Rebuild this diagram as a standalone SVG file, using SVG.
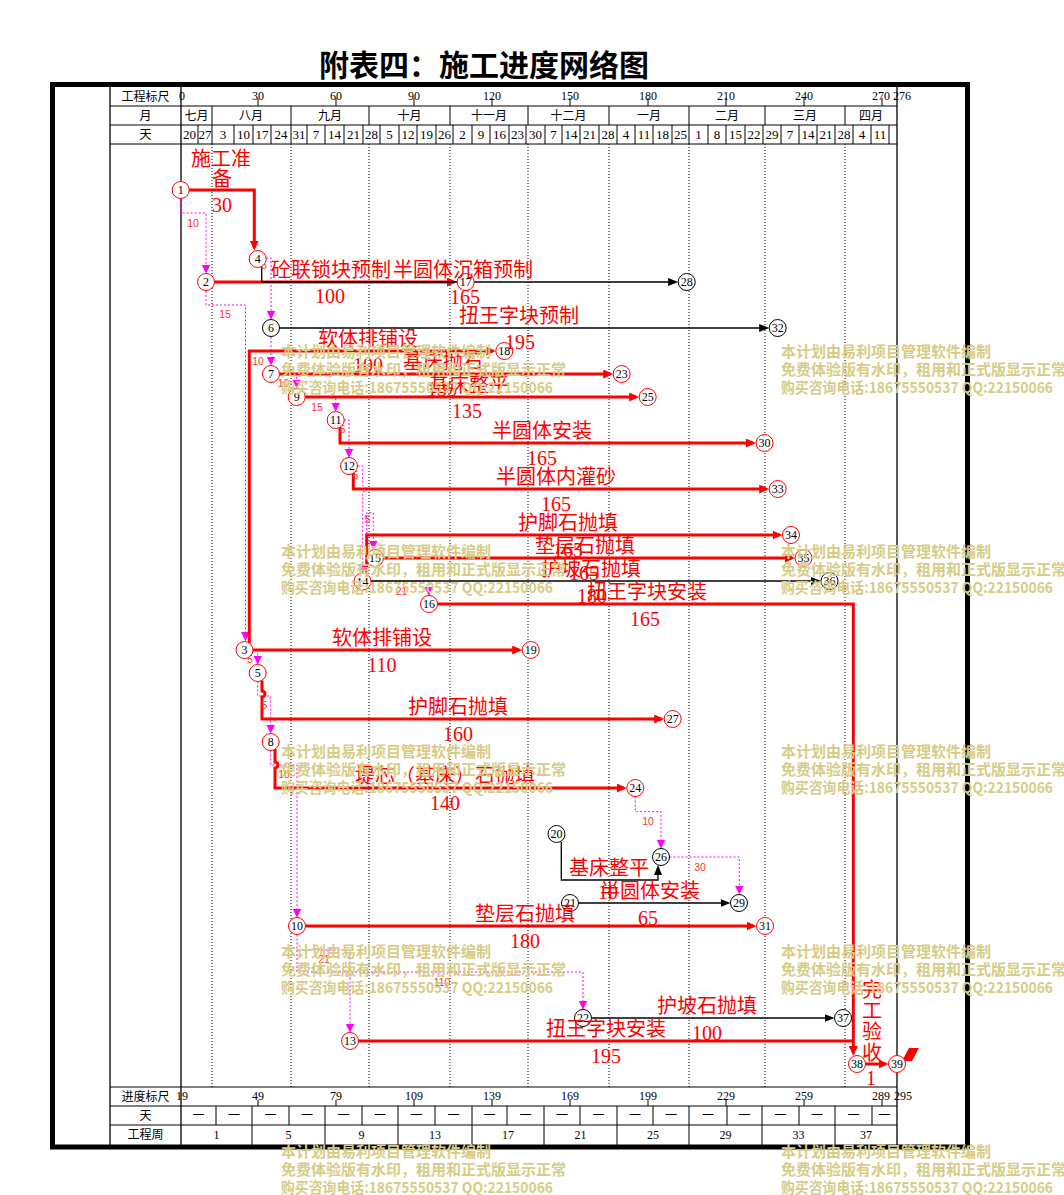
<svg xmlns="http://www.w3.org/2000/svg" width="1064" height="1195" viewBox="0 0 1064 1195">
<style>
.fr{fill:none;stroke:#000;stroke-width:5}
.ln{stroke:#000;stroke-width:1.3;fill:none}
.th{stroke:#000;stroke-width:1;fill:none}
.gd{stroke:#000;stroke-width:1;stroke-dasharray:1 2;fill:none}
.r{fill:none;stroke:#f00;stroke-width:3}
.b{fill:none;stroke:#000;stroke-width:1.3}
.d{fill:none;stroke:#f0f;stroke-width:1;stroke-dasharray:2 2}
.ra{marker-end:url(#ar)}
.ba{marker-end:url(#ab)}
.da{marker-end:url(#am)}
.nr circle{fill:#fff;stroke:#f00;stroke-width:1}
.nb circle{fill:#fff;stroke:#000;stroke-width:1}
.nr text,.nb text{font-family:"Liberation Serif",serif;font-size:12px;text-anchor:middle;fill:#000}
.h{font-family:"Liberation Serif","Noto Sans CJK SC",serif;font-size:12px;text-anchor:middle;fill:#000}
.hd{font-family:"Liberation Serif",serif;font-size:13px;text-anchor:middle;fill:#000}
.lb{font-family:"Liberation Serif","Noto Sans CJK SC",serif;font-size:20px;text-anchor:middle;fill:#f00}
.sm{font-family:"Liberation Sans",sans-serif;font-size:10.5px;text-anchor:middle;fill:#f33}
.wm{font-family:"Noto Sans CJK SC",sans-serif;font-size:15px;font-weight:bold;fill:#D7CC85}
.tt{font-family:"Noto Sans CJK SC",sans-serif;font-size:30px;font-weight:bold;text-anchor:middle;fill:#000}
</style>
<defs>
<marker id="ar" markerUnits="userSpaceOnUse" markerWidth="11" markerHeight="10" refX="7" refY="4.5" orient="auto"><path d="M0,0 L10,4.5 L0,9 z" fill="#f00"/></marker>
<marker id="ab" markerUnits="userSpaceOnUse" markerWidth="11" markerHeight="10" refX="7" refY="4" orient="auto"><path d="M0,0 L10,4 L0,8 z" fill="#000"/></marker>
<marker id="am" markerUnits="userSpaceOnUse" markerWidth="10" markerHeight="10" refX="9" refY="4.5" orient="auto"><path d="M0,0 L9,4.5 L0,9 z" fill="#f0f"/></marker>
</defs>
<rect width="1064" height="1195" fill="#fff"/>
<text class="tt" x="484" y="76">附表四：施工进度网络图</text>

<g id="frame">
<rect class="fr" x="52.5" y="84.5" width="915" height="1062.5"/>
<path class="ln" d="M110,87 V1145 M181,87 V1145 M897,87 V1145"/>
<path class="th" d="M110,106 H897 M110,125 H897 M110,144 H897 M110,1087 H897 M110,1106 H897 M110,1125 H897"/>
<path class="th" d="M212,106V125 M291,106V125 M369,106V125 M450,106V125 M528,106V125 M609,106V125 M689,106V125 M765,106V125 M845,106V125"/>
<path class="th" d="M198,125V144 M212,125V144 M234,125V144 M253,125V144 M271,125V144 M291,125V144 M307,125V144 M325,125V144 M344,125V144 M363,125V144 M380,125V144 M399,125V144 M417,125V144 M436,125V144 M453,125V144 M472,125V144 M490,125V144 M509,125V144 M526,125V144 M545,125V144 M562,125V144 M580,125V144 M599,125V144 M617,125V144 M635,125V144 M653,125V144 M672,125V144 M689,125V144 M708,125V144 M726,125V144 M745,125V144 M763,125V144 M781,125V144 M799,125V144 M817,125V144 M835,125V144 M853,125V144 M871,125V144 M889,125V144"/>
<path class="th" d="M258,98V106 M336,98V106 M414,98V106 M492,98V106 M570,98V106 M648,98V106 M726,98V106 M804,98V106 M882,98V106"/>
<path class="th" d="M258,1100V1106 M336,1100V1106 M414,1100V1106 M492,1100V1106 M570,1100V1106 M648,1100V1106 M726,1100V1106 M804,1100V1106 M882,1100V1106"/>
<path class="th" d="M216,1106V1125 M252,1106V1125 M289,1106V1125 M325,1106V1125 M362,1106V1125 M398,1106V1125 M435,1106V1125 M472,1106V1125 M507,1106V1125 M544,1106V1125 M580,1106V1125 M617,1106V1125 M653,1106V1125 M689,1106V1125 M727,1106V1125 M762,1106V1125 M799,1106V1125 M835,1106V1125 M872,1106V1125"/>
<path class="th" d="M252,1125V1145 M325,1125V1145 M398,1125V1145 M472,1125V1145 M544,1125V1145 M617,1125V1145 M689,1125V1145 M762,1125V1145 M835,1125V1145"/>
<path class="gd" d="M212,144V1087 M291,144V1087 M369,144V1087 M450,144V1087 M528,144V1087 M609,144V1087 M689,144V1087 M765,144V1087 M845,144V1087"/>
</g>

<g id="header">
<text class="h" x="145.5" y="101">工程标尺</text>
<text class="h" x="145.5" y="120">月</text>
<text class="h" x="145.5" y="139">天</text>
<text class="h" x="182" y="99.5" text-anchor="start">0</text>
<text class="h" x="258" y="99.5">30</text>
<text class="h" x="336" y="99.5">60</text>
<text class="h" x="414" y="99.5">90</text>
<text class="h" x="492" y="99.5">120</text>
<text class="h" x="570" y="99.5">150</text>
<text class="h" x="648" y="99.5">180</text>
<text class="h" x="726" y="99.5">210</text>
<text class="h" x="804" y="99.5">240</text>
<text class="h" x="881" y="99.5">270</text>
<text class="h" x="902" y="99.5">276</text>
<text class="h" x="196.5" y="120">七月</text>
<text class="h" x="251" y="120">八月</text>
<text class="h" x="330" y="120">九月</text>
<text class="h" x="409.5" y="120">十月</text>
<text class="h" x="489" y="120">十一月</text>
<text class="h" x="568.5" y="120">十二月</text>
<text class="h" x="649" y="120">一月</text>
<text class="h" x="727" y="120">二月</text>
<text class="h" x="805" y="120">三月</text>
<text class="h" x="871" y="120">四月</text>
<text class="hd" x="189.5" y="139">20</text>
<text class="hd" x="205" y="139">27</text>
<text class="hd" x="223" y="139">3</text>
<text class="hd" x="243.5" y="139">10</text>
<text class="hd" x="262" y="139">17</text>
<text class="hd" x="281" y="139">24</text>
<text class="hd" x="299" y="139">31</text>
<text class="hd" x="316" y="139">7</text>
<text class="hd" x="334.5" y="139">14</text>
<text class="hd" x="353.5" y="139">21</text>
<text class="hd" x="371.5" y="139">28</text>
<text class="hd" x="389.5" y="139">5</text>
<text class="hd" x="408" y="139">12</text>
<text class="hd" x="426.5" y="139">19</text>
<text class="hd" x="444.5" y="139">26</text>
<text class="hd" x="462.5" y="139">2</text>
<text class="hd" x="481" y="139">9</text>
<text class="hd" x="499.5" y="139">16</text>
<text class="hd" x="517.5" y="139">23</text>
<text class="hd" x="535.5" y="139">30</text>
<text class="hd" x="553.5" y="139">7</text>
<text class="hd" x="571" y="139">14</text>
<text class="hd" x="589.5" y="139">21</text>
<text class="hd" x="608" y="139">28</text>
<text class="hd" x="626" y="139">4</text>
<text class="hd" x="644" y="139">11</text>
<text class="hd" x="662.5" y="139">18</text>
<text class="hd" x="680.5" y="139">25</text>
<text class="hd" x="698.5" y="139">1</text>
<text class="hd" x="717" y="139">8</text>
<text class="hd" x="735.5" y="139">15</text>
<text class="hd" x="754" y="139">22</text>
<text class="hd" x="772" y="139">29</text>
<text class="hd" x="790" y="139">7</text>
<text class="hd" x="808" y="139">14</text>
<text class="hd" x="826" y="139">21</text>
<text class="hd" x="844" y="139">28</text>
<text class="hd" x="862" y="139">4</text>
<text class="hd" x="880" y="139">11</text>
</g>

<g id="footer">
<text class="h" x="145.5" y="1101">进度标尺</text>
<text class="h" x="145.5" y="1120">天</text>
<text class="h" x="145.5" y="1139">工程周</text>
<text class="h" x="182" y="1100" text-anchor="start">19</text>
<text class="h" x="258" y="1100">49</text>
<text class="h" x="336" y="1100">79</text>
<text class="h" x="414" y="1100">109</text>
<text class="h" x="492" y="1100">139</text>
<text class="h" x="570" y="1100">169</text>
<text class="h" x="648" y="1100">199</text>
<text class="h" x="726" y="1100">229</text>
<text class="h" x="804" y="1100">259</text>
<text class="h" x="881" y="1100">289</text>
<text class="h" x="903" y="1100">295</text>
<text class="h" x="198.5" y="1120">一</text>
<text class="h" x="234" y="1120">一</text>
<text class="h" x="270.5" y="1120">一</text>
<text class="h" x="307" y="1120">一</text>
<text class="h" x="343.5" y="1120">一</text>
<text class="h" x="380" y="1120">一</text>
<text class="h" x="416.5" y="1120">一</text>
<text class="h" x="453.5" y="1120">一</text>
<text class="h" x="489.5" y="1120">一</text>
<text class="h" x="525.5" y="1120">一</text>
<text class="h" x="562" y="1120">一</text>
<text class="h" x="598.5" y="1120">一</text>
<text class="h" x="635" y="1120">一</text>
<text class="h" x="671" y="1120">一</text>
<text class="h" x="708" y="1120">一</text>
<text class="h" x="744.5" y="1120">一</text>
<text class="h" x="780.5" y="1120">一</text>
<text class="h" x="817" y="1120">一</text>
<text class="h" x="853.5" y="1120">一</text>
<text class="h" x="884.5" y="1120">一</text>
<text class="h" x="216.5" y="1139">1</text>
<text class="h" x="288.5" y="1139">5</text>
<text class="h" x="361.5" y="1139">9</text>
<text class="h" x="435" y="1139">13</text>
<text class="h" x="508" y="1139">17</text>
<text class="h" x="580.5" y="1139">21</text>
<text class="h" x="653" y="1139">25</text>
<text class="h" x="725.5" y="1139">29</text>
<text class="h" x="798.5" y="1139">33</text>
<text class="h" x="866" y="1139">37</text>
</g>

<g id="connectors">
<path class="d da" d="M180.7,199 V213 H206 V273.5"/>
<path class="d da" d="M206,291 V305 H245.5 V641"/>
<path class="d da" d="M266,258 H271 V319.5"/>
<path class="d da" d="M271,337 V365.5"/>
<path class="d da" d="M279.5,374 H296.7 V388.5"/>
<path class="d da" d="M305,397 H335.7 V411.5"/>
<path class="d da" d="M344,420 H349 V457.5"/>
<path class="d da" d="M357.5,466 H362.7 V486 A3,3 0 0 1 362.7,492 V573"/>
<path class="d da" d="M366.7,574 V512.7 H373.3 V549.5"/>
<path class="d da" d="M371,581 H429 V596"/>
<path class="d da" d="M253,650 H257.7 V664.5"/>
<path class="d da" d="M257.7,681.5 V696 H270.7 V733.5"/>
<path class="d da" d="M270.7,750.5 V765 H297 V917.5"/>
<path class="d da" d="M635.3,796.5 V811.7 H661 V848.5"/>
<path class="d da" d="M669.5,857 H739.3 V894.5"/>
<path class="d da" d="M297,934.5 V950 H350 V1032.5"/>
<path class="d da" d="M297,950 V972 H583 V1009.5"/>

<path class="r ra" d="M214.5,282 H454"/>
<path class="b ba" d="M261.7,266.5 V282 H675.2"/>
<path class="b ba" d="M279.5,328 H766.2"/>
<path class="b ba" d="M371,581 H818"/>
<path class="b ba" d="M561.3,842 V880 H658 V868"/>
<path class="b ba" d="M578.5,903 H727.5"/>
<path class="b ba" d="M591.5,1018 H831.5"/>

<path class="r ra" d="M189,190 H254.3 V247.5"/>
<path class="r ra" d="M249.3,643 V351 H492.8"/>
<path class="r ra" d="M253,650 H519.2"/>
<path class="r ra" d="M262,680.5 V691 A3,3 0 0 1 262,697 V719 H661.2"/>
<path class="r ra" d="M279.5,374 H610.2"/>
<path class="r ra" d="M275,749 V762 A3,3 0 0 1 275,768 V788 H623.8"/>
<path class="r ra" d="M305,397 H636.2"/>
<path class="r ra" d="M305.5,926 H753.5"/>
<path class="r ra" d="M340,427 V443 H753"/>
<path class="r ra" d="M353.3,473 V489 H766.2"/>
<path class="r" d="M358.5,1041 H853.3"/>
<path class="r ra" d="M366.7,574 V535 H779.5"/>
<path class="r ra" d="M383.5,558 H792"/>
<path class="r ra" d="M437.5,604 H853.3 V1053"/>
<path class="r ra" d="M865.5,1064 H885.5"/>
<polygon points="909,1048 919,1048 912,1061 902,1061" fill="#f00"/>
</g>

<g id="dummy-labels">
<text class="sm" x="193" y="227">10</text>
<text class="sm" x="225" y="318">15</text>
<text class="sm" x="264" y="269">5</text>
<text class="sm" x="258" y="365">10</text>
<text class="sm" x="283.5" y="387">10</text>
<text class="sm" x="317" y="411">15</text>
<text class="sm" x="342.5" y="433">5</text>
<text class="sm" x="355.5" y="479">5</text>
<text class="sm" x="367.5" y="523">5</text>
<text class="sm" x="401.5" y="595">21</text>
<text class="sm" x="250" y="663">5</text>
<text class="sm" x="264.5" y="709">5</text>
<text class="sm" x="284" y="778">10</text>
<text class="sm" x="648" y="825">10</text>
<text class="sm" x="700" y="871">30</text>
<text class="sm" x="324" y="963">21</text>
<text class="sm" x="442" y="986">110</text>
</g>

<g id="n1" class="nr"><circle cx="180.7" cy="190" r="8.5"/><text x="180.7" y="194">1</text></g>
<g id="n2" class="nr"><circle cx="206" cy="282" r="8.5"/><text x="206" y="286">2</text></g>
<g id="n3" class="nr"><circle cx="244.5" cy="650" r="8.5"/><text x="244.5" y="654">3</text></g>
<g id="n4" class="nr"><circle cx="257.7" cy="259" r="8.5"/><text x="257.7" y="263">4</text></g>
<g id="n5" class="nr"><circle cx="257.7" cy="673" r="8.5"/><text x="257.7" y="677">5</text></g>
<g id="n6" class="nb"><circle cx="271" cy="328" r="8.5"/><text x="271" y="332">6</text></g>
<g id="n7" class="nr"><circle cx="271" cy="374" r="8.5"/><text x="271" y="378">7</text></g>
<g id="n8" class="nr"><circle cx="270.7" cy="742" r="8.5"/><text x="270.7" y="746">8</text></g>
<g id="n9" class="nr"><circle cx="296.7" cy="397" r="8.5"/><text x="296.7" y="401">9</text></g>
<g id="n10" class="nr"><circle cx="297" cy="926" r="8.5"/><text x="297" y="930">10</text></g>
<g id="n11" class="nr"><circle cx="335.7" cy="420" r="8.5"/><text x="335.7" y="424">11</text></g>
<g id="n12" class="nr"><circle cx="349" cy="466" r="8.5"/><text x="349" y="470">12</text></g>
<g id="n13" class="nr"><circle cx="350" cy="1041" r="8.5"/><text x="350" y="1045">13</text></g>
<g id="n14" class="nr"><circle cx="362.5" cy="581.5" r="8.5"/><text x="362.5" y="585.5">14</text></g>
<g id="n15" class="nr"><circle cx="375" cy="558" r="8.5"/><text x="375" y="562">15</text></g>
<g id="n16" class="nr"><circle cx="429" cy="604" r="8.5"/><text x="429" y="608">16</text></g>
<g id="n17" class="nr"><circle cx="465.7" cy="282" r="8.5"/><text x="465.7" y="286">17</text></g>
<g id="n18" class="nr"><circle cx="504.3" cy="351" r="8.5"/><text x="504.3" y="355">18</text></g>
<g id="n19" class="nr"><circle cx="530.7" cy="650" r="8.5"/><text x="530.7" y="654">19</text></g>
<g id="n20" class="nb"><circle cx="556.5" cy="834" r="8.5"/><text x="556.5" y="838">20</text></g>
<g id="n21" class="nb"><circle cx="570" cy="903" r="8.5"/><text x="570" y="907">21</text></g>
<g id="n22" class="nb"><circle cx="583" cy="1018" r="8.5"/><text x="583" y="1022">22</text></g>
<g id="n23" class="nr"><circle cx="621.7" cy="374" r="8.5"/><text x="621.7" y="378">23</text></g>
<g id="n24" class="nr"><circle cx="635.3" cy="788" r="8.5"/><text x="635.3" y="792">24</text></g>
<g id="n25" class="nr"><circle cx="647.7" cy="397" r="8.5"/><text x="647.7" y="401">25</text></g>
<g id="n26" class="nb"><circle cx="661" cy="857" r="8.5"/><text x="661" y="861">26</text></g>
<g id="n27" class="nr"><circle cx="672.7" cy="719" r="8.5"/><text x="672.7" y="723">27</text></g>
<g id="n28" class="nb"><circle cx="686.7" cy="282" r="8.5"/><text x="686.7" y="286">28</text></g>
<g id="n29" class="nb"><circle cx="739" cy="903" r="8.5"/><text x="739" y="907">29</text></g>
<g id="n30" class="nr"><circle cx="764.5" cy="443" r="8.5"/><text x="764.5" y="447">30</text></g>
<g id="n31" class="nr"><circle cx="765" cy="926" r="8.5"/><text x="765" y="930">31</text></g>
<g id="n32" class="nb"><circle cx="777.7" cy="328" r="8.5"/><text x="777.7" y="332">32</text></g>
<g id="n33" class="nr"><circle cx="777.7" cy="489" r="8.5"/><text x="777.7" y="493">33</text></g>
<g id="n34" class="nr"><circle cx="791" cy="535" r="8.5"/><text x="791" y="539">34</text></g>
<g id="n35" class="nr"><circle cx="803.5" cy="558" r="8.5"/><text x="803.5" y="562">35</text></g>
<g id="n36" class="nb"><circle cx="829.5" cy="581" r="8.5"/><text x="829.5" y="585">36</text></g>
<g id="n37" class="nb"><circle cx="843" cy="1018" r="8.5"/><text x="843" y="1022">37</text></g>
<g id="n38" class="nr"><circle cx="857" cy="1064" r="8.5"/><text x="857" y="1068">38</text></g>
<g id="n39" class="nr"><circle cx="897" cy="1064" r="8.5"/><text x="897" y="1068">39</text></g>

<g id="activity-labels">
<text class="lb" x="221" y="166">施工准</text>
<text class="lb" x="222" y="186">备</text>
<text class="lb" x="222" y="212">30</text>
<text class="lb" x="331" y="277">砼联锁块预制</text>
<text class="lb" x="330" y="303">100</text>
<text class="lb" x="463" y="277">半圆体沉箱预制</text>
<text class="lb" x="465" y="304">165</text>
<text class="lb" x="519" y="323">扭王字块预制</text>
<text class="lb" x="520" y="349">195</text>
<text class="lb" x="368" y="346">软体排铺设</text>
<text class="lb" x="368" y="372">100</text>
<text class="lb" x="443" y="369">基床抛石</text>
<text class="lb" x="442" y="396">135</text>
<text class="lb" x="469" y="392">基床整平</text>
<text class="lb" x="467" y="418">135</text>
<text class="lb" x="542" y="438">半圆体安装</text>
<text class="lb" x="542" y="465">165</text>
<text class="lb" x="556" y="484">半圆体内灌砂</text>
<text class="lb" x="556" y="511">165</text>
<text class="lb" x="568" y="530">护脚石抛填</text>
<text class="lb" x="568" y="557">165</text>
<text class="lb" x="585" y="553">垫层石抛填</text>
<text class="lb" x="584" y="580">165</text>
<text class="lb" x="591" y="576">护坡石抛填</text>
<text class="lb" x="592" y="603">180</text>
<text class="lb" x="647" y="599">扭王字块安装</text>
<text class="lb" x="645" y="626">165</text>
<text class="lb" x="382" y="645">软体排铺设</text>
<text class="lb" x="382" y="672">110</text>
<text class="lb" x="458" y="714">护脚石抛填</text>
<text class="lb" x="458" y="741">160</text>
<text class="lb" x="445" y="783">堤芯（基床）石抛填</text>
<text class="lb" x="445" y="810">140</text>
<text class="lb" x="609" y="875">基床整平</text>
<text class="lb" x="608" y="899">10</text>
<text class="lb" x="650" y="898">半圆体安装</text>
<text class="lb" x="648" y="925">65</text>
<text class="lb" x="525" y="921">垫层石抛填</text>
<text class="lb" x="525" y="948">180</text>
<text class="lb" x="707" y="1013">护坡石抛填</text>
<text class="lb" x="707" y="1040">100</text>
<text class="lb" x="606" y="1036">扭王字块安装</text>
<text class="lb" x="606" y="1063">195</text>
<text class="lb" x="872" y="997">完</text>
<text class="lb" x="872" y="1018">工</text>
<text class="lb" x="872" y="1039">验</text>
<text class="lb" x="872" y="1060">收</text>
<text class="lb" x="871" y="1085">1</text>
</g>

<g id="watermarks">
<text class="wm" x="281" y="357">本计划由易利项目管理软件编制</text>
<text class="wm" x="281" y="375">免费体验版有水印，租用和正式版显示正常</text>
<text class="wm" x="281" y="393" textLength="272" lengthAdjust="spacingAndGlyphs">购买咨询电话:18675550537 QQ:22150066</text>
<text class="wm" x="781" y="357">本计划由易利项目管理软件编制</text>
<text class="wm" x="781" y="375">免费体验版有水印，租用和正式版显示正常</text>
<text class="wm" x="781" y="393" textLength="272" lengthAdjust="spacingAndGlyphs">购买咨询电话:18675550537 QQ:22150066</text>
<text class="wm" x="281" y="557">本计划由易利项目管理软件编制</text>
<text class="wm" x="281" y="575">免费体验版有水印，租用和正式版显示正常</text>
<text class="wm" x="281" y="593" textLength="272" lengthAdjust="spacingAndGlyphs">购买咨询电话:18675550537 QQ:22150066</text>
<text class="wm" x="781" y="557">本计划由易利项目管理软件编制</text>
<text class="wm" x="781" y="575">免费体验版有水印，租用和正式版显示正常</text>
<text class="wm" x="781" y="593" textLength="272" lengthAdjust="spacingAndGlyphs">购买咨询电话:18675550537 QQ:22150066</text>
<text class="wm" x="281" y="757">本计划由易利项目管理软件编制</text>
<text class="wm" x="281" y="775">免费体验版有水印，租用和正式版显示正常</text>
<text class="wm" x="281" y="793" textLength="272" lengthAdjust="spacingAndGlyphs">购买咨询电话:18675550537 QQ:22150066</text>
<text class="wm" x="781" y="757">本计划由易利项目管理软件编制</text>
<text class="wm" x="781" y="775">免费体验版有水印，租用和正式版显示正常</text>
<text class="wm" x="781" y="793" textLength="272" lengthAdjust="spacingAndGlyphs">购买咨询电话:18675550537 QQ:22150066</text>
<text class="wm" x="281" y="957">本计划由易利项目管理软件编制</text>
<text class="wm" x="281" y="975">免费体验版有水印，租用和正式版显示正常</text>
<text class="wm" x="281" y="993" textLength="272" lengthAdjust="spacingAndGlyphs">购买咨询电话:18675550537 QQ:22150066</text>
<text class="wm" x="781" y="957">本计划由易利项目管理软件编制</text>
<text class="wm" x="781" y="975">免费体验版有水印，租用和正式版显示正常</text>
<text class="wm" x="781" y="993" textLength="272" lengthAdjust="spacingAndGlyphs">购买咨询电话:18675550537 QQ:22150066</text>
<text class="wm" x="281" y="1157">本计划由易利项目管理软件编制</text>
<text class="wm" x="281" y="1175">免费体验版有水印，租用和正式版显示正常</text>
<text class="wm" x="281" y="1193" textLength="272" lengthAdjust="spacingAndGlyphs">购买咨询电话:18675550537 QQ:22150066</text>
<text class="wm" x="781" y="1157">本计划由易利项目管理软件编制</text>
<text class="wm" x="781" y="1175">免费体验版有水印，租用和正式版显示正常</text>
<text class="wm" x="781" y="1193" textLength="272" lengthAdjust="spacingAndGlyphs">购买咨询电话:18675550537 QQ:22150066</text>
</g>
</svg>
